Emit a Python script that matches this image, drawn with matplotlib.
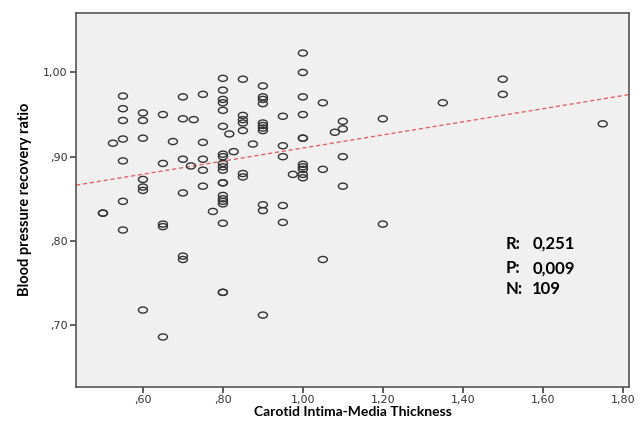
import numpy as np
import matplotlib
matplotlib.use("Agg")
import matplotlib.pyplot as plt
from matplotlib.path import Path
from matplotlib.transforms import Affine2D

# Carotid Intima-Media Thickness (x) and Blood pressure recovery ratio (y)
cimt = ([0.50]*2 + [0.525] + [0.55]*7 + [0.60]*7 + [0.65]*5 + [0.675] + [0.70]*6 +
        [0.72] + [0.727] + [0.75]*5 + [0.775] + [0.80]*20 + [0.816] + [0.827] +
        [0.85]*7 + [0.875] + [0.90]*11 + [0.95]*5 + [0.975] + [1.00]*11 +
        [1.05]*3 + [1.08] + [1.10]*4 + [1.20]*2 + [1.35] + [1.50]*2 + [1.75])
bprr = [0.833, 0.833,
        0.916,
        0.972, 0.957, 0.943, 0.921, 0.895, 0.847, 0.813,
        0.952, 0.943, 0.922, 0.873, 0.864, 0.860, 0.718,
        0.950, 0.892, 0.820, 0.817, 0.686,
        0.918,
        0.971, 0.945, 0.897, 0.857, 0.782, 0.778,
        0.889,
        0.944,
        0.974, 0.917, 0.897, 0.884, 0.865,
        0.835,
        0.993, 0.979, 0.968, 0.964, 0.955, 0.936, 0.903, 0.900, 0.892, 0.888,
        0.884, 0.869, 0.869, 0.854, 0.850, 0.847, 0.844, 0.821, 0.739, 0.739,
        0.927,
        0.906,
        0.992, 0.949, 0.944, 0.940, 0.931, 0.880, 0.876,
        0.915,
        0.984, 0.971, 0.968, 0.963, 0.940, 0.937, 0.934, 0.931, 0.843, 0.836, 0.712,
        0.948, 0.913, 0.900, 0.842, 0.822,
        0.879,
        1.023, 1.000, 0.971, 0.950, 0.922, 0.922, 0.891, 0.888, 0.885, 0.879, 0.875,
        0.964, 0.885, 0.778,
        0.929,
        0.942, 0.933, 0.900, 0.865,
        0.945, 0.820,
        0.964,
        0.992, 0.974,
        0.939]

x_ticks = [0.6, 0.8, 1.0, 1.2, 1.4, 1.6, 1.8]
x_tick_labels = [",60", ",80", "1,00", "1,20", "1,40", "1,60", "1,80"]
y_ticks = [0.7, 0.8, 0.9, 1.0]
y_tick_labels = [",70", ",80", ",90", "1,00"]
stats_labels = ["R:", "P:", "N:"]
stats_values = ["0,251", "0,009", "109"]

x = np.array(cimt)
y = np.array(bprr)

fig = plt.figure(figsize=(6.4, 4.21), dpi=100)
ax = fig.add_axes([0.119, 0.0815, 0.864, 0.8885])
ax.set_facecolor("#F0F0F0")

ellipse = Path.unit_circle().transformed(Affine2D().scale(1.0, 0.68))
ax.scatter(x, y, marker=ellipse, s=42, facecolors="none",
           edgecolors="#333333", linewidths=1.0, zorder=3)

xlim = (0.433, 1.816)
ylim = (0.627, 1.071)
slope, intercept = np.polyfit(x, y, 1)
xl = np.array(xlim)
ax.plot(xl, slope * xl + intercept, linestyle=(0, (3, 2)), color="#E06666",
        linewidth=1.0, zorder=2)

ax.set_xlim(*xlim)
ax.set_ylim(*ylim)
ax.set_xticks(x_ticks)
ax.set_xticklabels(x_tick_labels)
ax.set_yticks(y_ticks)
ax.set_yticklabels(y_tick_labels)
ax.tick_params(direction="out", length=4.5, width=1.2, color="#444444",
               labelsize=8, labelcolor="#333333", pad=1.5)
for s in ax.spines.values():
    s.set_color("#555555")
    s.set_linewidth(1.2)

ax.set_xlabel("Carotid Intima-Media Thickness", fontsize=10, fontweight="bold",
              family="Lato", labelpad=1)
ax.set_ylabel("Blood pressure recovery ratio", fontsize=10.5, fontweight="bold",
              family="Lato", labelpad=8)

ypos_list = [0.382, 0.317, 0.261]
for lab, val, ypos in zip(stats_labels, stats_values, ypos_list):
    ax.text(0.776, ypos, lab, transform=ax.transAxes, fontsize=12,
            fontweight="bold", family="Lato", va="center", ha="left")
    ax.text(0.825, ypos, val, transform=ax.transAxes,
            fontsize=12, fontweight="bold", family="Lato",
            va="center", ha="left")

fig.savefig("out.png", dpi=100)
